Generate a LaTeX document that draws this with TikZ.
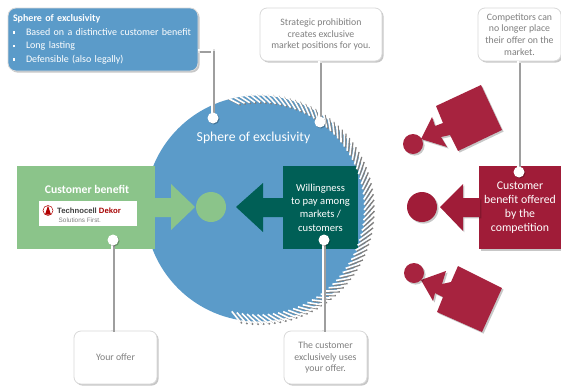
\documentclass[tikz,border=0pt]{standalone}
\usepackage{fontspec}
\setmainfont{Carlito}
\newfontfamily\logofont{Liberation Sans}
\usetikzlibrary{shadows,calc}
\definecolor{sphere}{HTML}{5B9BC9}
\definecolor{benefit}{HTML}{8BC48A}
\definecolor{willing}{HTML}{005F56}
\definecolor{rival}{HTML}{A01C38}
\definecolor{rivalb}{HTML}{A7233F}
\definecolor{callgrey}{HTML}{7F7F7F}
\newcommand{\fs}[2]{\fontsize{#1}{#2}\selectfont}
\newcommand{\sqb}{\makebox[13pt][l]{\rule[1.5pt]{2.4pt}{2.4pt}}}
\tikzset{
  softshadow/.style={drop shadow={shadow xshift=1.6pt,shadow yshift=-1.6pt,fill=black,opacity=.22}},
  callout/.style={draw=black!15,line width=.8pt,fill=white,rounded corners=7pt,softshadow,
    minimum width=83pt,minimum height=53pt,inner sep=0pt,align=center,text=callgrey,font=\fs{9.8}{11.7}},
  block/.style={minimum height=83pt,inner sep=0pt,align=center,text=white},
  conn/.style={line width=3.6pt,draw=black!12,
    postaction={draw=black!38,line width=1.6pt,transform canvas={xshift=1.1pt,yshift=-1.1pt}},
    postaction={draw=white,line width=2pt,transform canvas={xshift=-.6pt,yshift=.6pt}}},
  dot/.style={circle,fill=white,inner sep=0pt,minimum size=11pt,
    drop shadow={shadow xshift=1pt,shadow yshift=-1pt,fill=black,opacity=.25}},
  hub/.style={circle,inner sep=0pt,minimum size=30pt},
  hubs/.style={circle,inner sep=0pt,minimum size=20pt,fill=rivalb,softshadow},
}
\begin{document}
\begin{tikzpicture}[x=1pt,y=-1pt]
\useasboundingbox (0,0) rectangle (561,388);
\fill[white] (0,0) rectangle (561,388);
% sphere
\node[circle,fill=sphere,inner sep=0pt,minimum size=226pt] (sph) at (258,208.5) {};
\node[text=white,font=\fs{13.7}{15}] (sphlabel) at (253.5,138) {Sphere of exclusivity};
% blocks
\node[block,fill=benefit,minimum width=138pt] (ben) at (86,207.5) {};
\node[block,fill=willing,minimum width=75pt,font=\fs{10.6}{13.4}] (wil) at (320.5,207.5) {Willingness\\to pay among\\markets /\\customers};
\node[block,fill=rival,minimum width=82pt,font=\fs{11.8}{14},softshadow] (riv) at (520,207.5) {Customer\\benefit offered\\by the\\competition};
\node[text=white,font=\fs{11.7}{12}\bfseries] (benlabel) at (87,189) {Customer benefit};
% logo
\node[fill=white,minimum width=98pt,minimum height=25pt,inner sep=0pt] (logo) at (88,213.5) {};
\draw[red!70!black,line width=.5pt,fill=white] (48,210.5) circle (5);
\fill[red!70!black] (48,205.5) -- (51,214.5) -- (45,214.5) -- cycle;
\node[inner sep=0pt,anchor=west,font=\logofont\fs{7.7}{9}\bfseries] (logotext) at (57,211)
  {\textcolor{black!75}{Technocell} \textcolor{red!65!black}{Dekor}};
\node[inner sep=0pt,anchor=west,text=black!50,font=\logofont\fs{6.4}{7}] (logotag) at (58.5,220.5) {Solutions First.};
% arrows and hubs
\fill[benefit] (155,198) -- (171,198) -- (171,184) -- (195,207) -- (171,230) -- (171,217) -- (155,217) -- cycle;
\node[hub,fill=benefit] (hubgreen) at (211,207) {};
\fill[willing] (283,198) -- (263,198) -- (263,183) -- (236,207) -- (263,232) -- (263,217) -- (283,217) -- cycle;
\fill[rival,drop shadow={shadow xshift=1.4pt,shadow yshift=-1.4pt,fill=black,opacity=.2}] (480,198) -- (463,198) -- (463,184) -- (440,207) -- (463,231) -- (463,217) -- (480,217) -- cycle;
\node[hub,fill=rival,softshadow] (hubred) at (422,207) {};
% competitor pieces
\fill[rivalb,softshadow] (436,106) -- (481,85) -- (502,130) -- (458,151) -- (450,135) -- (441,137) -- (447,147) -- (421,139) -- (432,117) -- (435,126) -- (443,123) -- cycle;
\node[hubs] (hubup) at (413,144) {};
\fill[rivalb,softshadow] (458,266) -- (502,288) -- (482,332) -- (437,312) -- (443,297) -- (435,293) -- (433,301) -- (421,280) -- (446,271) -- (442,284) -- (451,282) -- cycle;
\node[hubs] (hubdown) at (414,273) {};
% hatching
\foreach \a in {-103,-100.2,...,103}{
  \draw[black!50,line width=1.5pt] ($(259.3,209.6)+(\a:110.5)+({\a-50}:-7)$) -- ($(259.3,209.6)+(\a:110.5)+({\a-50}:7)$);
}
\foreach \a in {-103,-100.2,...,103}{
  \draw[white,line width=1.6pt] ($(258,208.5)+(\a:110.5)+({\a-50}:-7)$) -- ($(258,208.5)+(\a:110.5)+({\a-50}:7)$);
}
% callouts
\node[fill=sphere,draw=black!15,line width=.8pt,rounded corners=8pt,softshadow,minimum width=190pt,minimum height=63pt,
  inner sep=0pt,text width=180pt,align=left,text=white,font=\fs{10}{13.5}] (sphbox) at (103,39.5)
  {{\bfseries Sphere of exclusivity}\\
   \hspace*{0pt}\sqb Based on a distinctive customer benefit\\
   \hspace*{0pt}\sqb Long lasting\\
   \hspace*{0pt}\sqb Defensible (also legally)};
\node[callout,minimum width=122pt] (strat) at (321,34.5) {Strategic prohibition\\creates exclusive\\market positions for you.};
\node[callout] (comp) at (519.5,34.5) {Competitors can\\no longer place\\their offer on the\\market.};
\node[callout] (offer) at (115.5,357.5) {Your offer};
\node[callout] (excl) at (325.5,357.5) {The customer\\exclusively uses\\your offer.};
% connectors
\coordinate (pa) at (213,118);
\coordinate (pb) at (320,122);
\coordinate (pc) at (519,172);
\coordinate (pd) at (113,240);
\coordinate (pe) at (324,240);
\draw[conn] ([yshift=-11.5pt]sphbox.east) -| (pa);
\draw[conn] (strat.south -| pb) -- (pb);
\draw[conn] (comp.south -| pc) -- (pc);
\draw[conn] (offer.north -| pd) -- (pd);
\draw[conn] (excl.north -| pe) -- (pe);
\node[dot] (da) at (pa) {};
\node[dot] (db) at (pb) {};
\node[dot] (dc) at (pc) {};
\node[dot] (dd) at (pd) {};
\node[dot] (de) at (pe) {};
\end{tikzpicture}
\end{document}
